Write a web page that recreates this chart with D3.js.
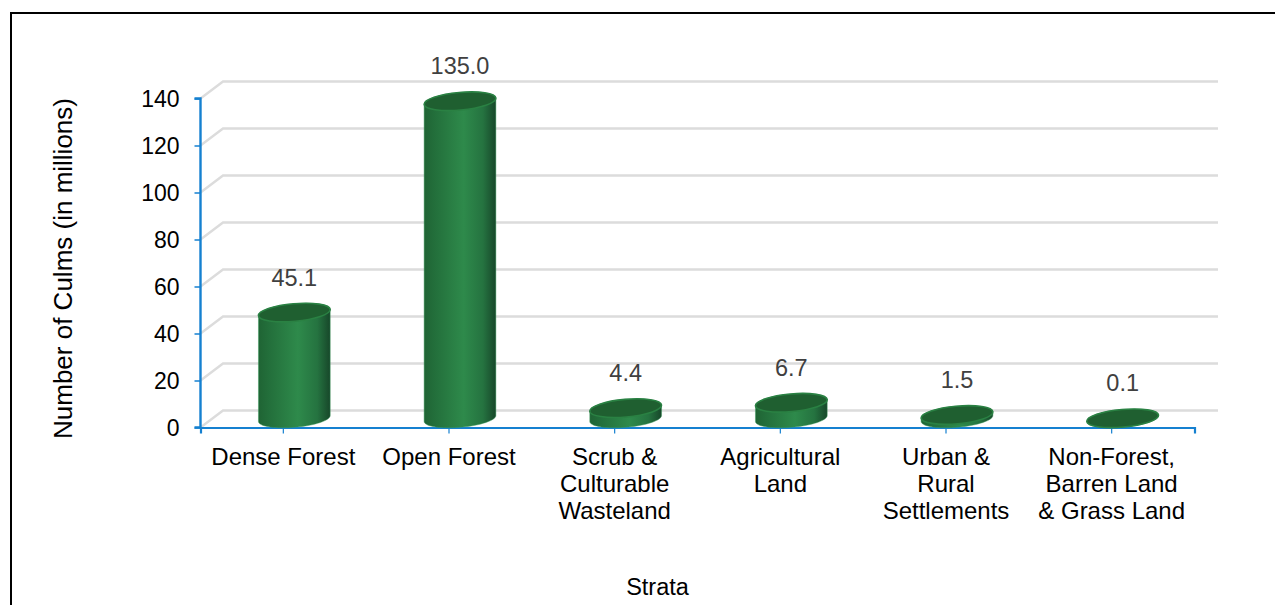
<!DOCTYPE html>
<html><head><meta charset="utf-8">
<script src="https://cdn.jsdelivr.net/npm/d3@7"></script>
<style>
html,body{margin:0;padding:0;background:#fff;overflow:hidden}
text{font-family:"Liberation Sans",Arial,sans-serif}
</style></head><body>
<script>
const categories = [["Dense Forest"],["Open Forest"],["Scrub &","Culturable","Wasteland"],["Agricultural","Land"],["Urban &","Rural","Settlements"],["Non-Forest,","Barren Land","& Grass Land"]];
const values = [45.1,135.0,4.4,6.7,1.5,0.1];
const valueLabels = ["45.1","135.0","4.4","6.7","1.5","0.1"];
const yTicks = [0,20,40,60,80,100,120,140];
const yTitle = "Number of Culms (in millions)";
const xTitle = "Strata";

const W=1275,H=605;
const svg=d3.select("body").append("svg").attr("width",W).attr("height",H).style("display","block");
const defs=svg.append("defs");
const grad=defs.append("linearGradient").attr("id","cyl");
[[0,"#1f6434"],[0.15,"#236f3b"],[0.55,"#2e8a4b"],[0.82,"#257340"],[1,"#17472a"]].forEach(s=>grad.append("stop").attr("offset",s[0]).attr("stop-color",s[1]));

// frame
svg.append("path").attr("d",`M11,${H}V13H${W}`).attr("fill","none").attr("stroke","#000").attr("stroke-width",2);

const y=d3.scaleLinear().domain([0,140]).range([427.5,98.5]);
const x=d3.scaleBand().domain(d3.range(categories.length)).range([200.5,1194.5]);
const wallDx=22.5,wallDy=-17;

// back wall + floor edge gridlines
const grid=svg.append("g").attr("fill","none").attr("stroke","#dcdcdc").attr("stroke-width",2.4);
yTicks.forEach(t=>{
  grid.append("path").attr("d",`M${x.range()[0]},${y(t)}L${x.range()[0]+wallDx},${y(t)+wallDy}H1218`);
});

// axes
const yA=svg.append("g").attr("transform","translate(200.5,0)").call(d3.axisLeft(y).tickValues(yTicks).tickSize(6).tickPadding(15));
yA.selectAll("line").attr("stroke","#1580d0").attr("stroke-width",1.5);
yA.select(".domain").attr("stroke","#1580d0").attr("stroke-width",2.4).attr("d",`M-6,${y(140)}H0V${y(0)}H-6`);
yA.selectAll("text").attr("font-size",23).attr("fill","#000").attr("font-family","Liberation Sans").attr("dy","0.36em");

const xA=svg.append("g").attr("transform",`translate(0,${y(0)})`).call(d3.axisBottom(x).tickSize(6).tickSizeOuter(6).tickFormat(""));
xA.select(".domain").attr("stroke","#1580d0").attr("stroke-width",2.2);
xA.selectAll("line").attr("stroke","#1580d0").attr("stroke-width",1.2);

// cylinders
const rx=36,ry=8.8,rot=-5*Math.PI/180,cdx=11,cdy=-9;
const t0=Math.atan2(-ry*Math.sin(rot),rx*Math.cos(rot));
const ePt=t=>[rx*Math.cos(t)*Math.cos(rot)-ry*Math.sin(t)*Math.sin(rot), rx*Math.cos(t)*Math.sin(rot)+ry*Math.sin(t)*Math.cos(rot)];
const lowerArc=d3.range(0,41).map(k=>ePt(t0+Math.PI*k/40));
const upperArc=d3.range(0,41).map(k=>ePt(t0-Math.PI*k/40));
const line=d3.line();
const bars=svg.append("g");
values.forEach((v,i)=>{
  const cx=x(i)+x.bandwidth()/2+cdx, by=y(0)+cdy, ty=y(v)+cdy;
  const body=[...lowerArc.map(p=>[cx+p[0],by+p[1]]), ...[...upperArc].reverse().map(p=>[cx+p[0],ty+p[1]])];
  const g=bars.append("g");
  g.append("path").attr("d",line(body)+"Z")
   .attr("fill","url(#cyl)").attr("stroke","#3a9a5a").attr("stroke-opacity",.45).attr("stroke-width",1);
  g.append("ellipse").attr("cx",cx).attr("cy",ty).attr("rx",rx).attr("ry",ry)
   .attr("transform",`rotate(-5 ${cx} ${ty})`)
   .attr("fill","#1f5f30").attr("stroke","#2a8143").attr("stroke-width",1.6);
  svg.append("text").attr("x",cx).attr("y",ty-27).attr("text-anchor","middle")
   .attr("font-size",23.5).attr("fill","#404040").text(valueLabels[i]);
});

// category labels
const lab=svg.append("g").attr("text-anchor","middle").attr("font-size",24).attr("fill","#000");
categories.forEach((c,i)=>{
  const t=lab.append("text");
  c.forEach((s,j)=>t.append("tspan").attr("x",x(i)+x.bandwidth()/2).attr("y",465+j*27).text(s));
});
svg.append("text").attr("x",657.5).attr("y",595).attr("text-anchor","middle").attr("font-size",23.5).attr("fill","#000").text(xTitle);
svg.append("text").attr("transform","translate(72,268.5) rotate(-90)").attr("text-anchor","middle").attr("font-size",26).attr("fill","#000").text(yTitle);
</script>
</body></html>
